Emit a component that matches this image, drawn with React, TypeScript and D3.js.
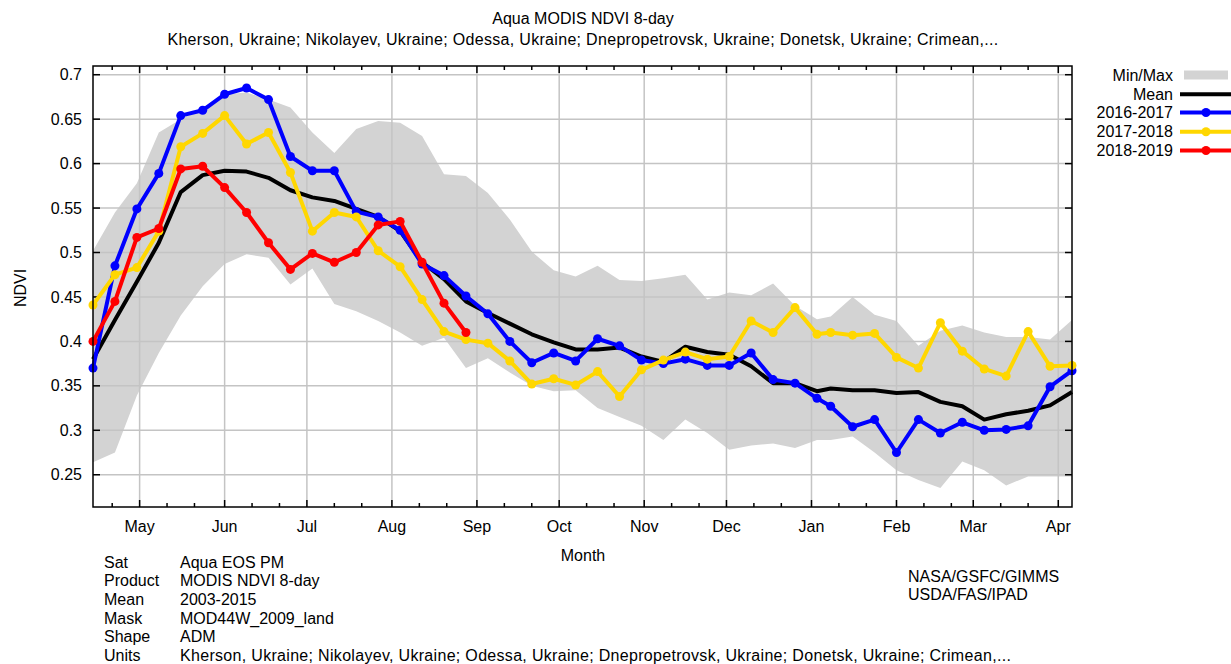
import React, { useEffect, useRef } from 'react';
import * as d3 from 'd3';

// 8-day composite positions on the season axis
const periodDates = [
  '2017-04-14', '2017-04-22', '2017-04-30', '2017-05-08', '2017-05-16', '2017-05-24',
  '2017-06-01', '2017-06-09', '2017-06-17', '2017-06-25', '2017-07-03', '2017-07-11',
  '2017-07-19', '2017-07-27', '2017-08-04', '2017-08-12', '2017-08-20', '2017-08-28',
  '2017-09-05', '2017-09-13', '2017-09-21', '2017-09-29', '2017-10-07', '2017-10-15',
  '2017-10-23', '2017-10-31', '2017-11-08', '2017-11-16', '2017-11-24', '2017-12-02',
  '2017-12-10', '2017-12-18', '2017-12-26', '2018-01-03', '2018-01-08', '2018-01-16',
  '2018-01-24', '2018-02-01', '2018-02-09', '2018-02-17', '2018-02-25', '2018-03-05',
  '2018-03-13', '2018-03-21', '2018-03-29', '2018-04-06',
];

const ndviMin = [
  0.264, 0.275, 0.339, 0.387, 0.429, 0.462, 0.487, 0.498, 0.494, 0.464, 0.482, 0.442,
  0.434, 0.423, 0.410, 0.395, 0.404, 0.370, 0.381, 0.365, 0.350, 0.344, 0.345, 0.325,
  0.315, 0.305, 0.289, 0.312, 0.297, 0.278, 0.283, 0.285, 0.280, 0.289, 0.289, 0.293,
  0.275, 0.255, 0.244, 0.235, 0.265, 0.255, 0.238, 0.248, 0.248, 0.248,
];

const ndviMax = [
  0.502, 0.545, 0.578, 0.635, 0.650, 0.663, 0.678, 0.680, 0.672, 0.663, 0.635, 0.612,
  0.639, 0.648, 0.646, 0.631, 0.588, 0.586, 0.567, 0.537, 0.501, 0.480, 0.473, 0.485,
  0.469, 0.468, 0.471, 0.475, 0.447, 0.455, 0.452, 0.465, 0.440, 0.425, 0.428, 0.450,
  0.430, 0.423, 0.395, 0.412, 0.418, 0.410, 0.405, 0.405, 0.402, 0.424,
];

const ndviMean = [
  0.380, 0.424, 0.467, 0.511, 0.568, 0.587, 0.592, 0.591, 0.584, 0.570, 0.562, 0.558,
  0.549, 0.540, 0.524, 0.489, 0.470, 0.445, 0.432, 0.420, 0.408, 0.399, 0.391, 0.391,
  0.393, 0.383, 0.377, 0.394, 0.388, 0.385, 0.372, 0.353, 0.353, 0.344, 0.347, 0.345,
  0.345, 0.342, 0.343, 0.332, 0.327, 0.312, 0.318, 0.322, 0.328, 0.343,
];

const ndvi2016 = [
  0.370, 0.485, 0.549, 0.589, 0.654, 0.660, 0.678, 0.685, 0.672, 0.608, 0.592, 0.592,
  0.546, 0.540, 0.525, 0.487, 0.474, 0.451, 0.431, 0.400, 0.376, 0.387, 0.378, 0.403,
  0.395, 0.379, 0.375, 0.380, 0.373, 0.373, 0.387, 0.357, 0.353, 0.336, 0.327, 0.304,
  0.312, 0.275, 0.312, 0.297, 0.309, 0.300, 0.301, 0.305, 0.349, 0.367,
];

const ndvi2017 = [
  0.441, 0.475, 0.483, 0.524, 0.619, 0.634, 0.654, 0.622, 0.635, 0.590, 0.524, 0.545,
  0.540, 0.502, 0.484, 0.447, 0.411, 0.402, 0.398, 0.378, 0.352, 0.358, 0.351, 0.366,
  0.338, 0.368, 0.379, 0.388, 0.380, 0.383, 0.423, 0.410, 0.438, 0.408, 0.410, 0.407,
  0.409, 0.382, 0.370, 0.421, 0.389, 0.369, 0.361, 0.411, 0.372, 0.373,
];

const ndvi2018 = [
  0.400, 0.445, 0.517, 0.527, 0.594, 0.597, 0.573, 0.545, 0.511, 0.481, 0.499, 0.489,
  0.500, 0.531, 0.535, 0.489, 0.443, 0.410,
];

const yTicks = [0.25, 0.3, 0.35, 0.4, 0.45, 0.5, 0.55, 0.6, 0.65, 0.7];
const monthLabels = ['May', 'Jun', 'Jul', 'Aug', 'Sep', 'Oct', 'Nov', 'Dec', 'Jan', 'Feb', 'Mar', 'Apr'];

const seriesNames = ['2016-2017', '2017-2018', '2018-2019'];
const seriesColors = ['#0000ff', '#ffd700', '#ff0000'];

const infoLabels = ['Sat', 'Product', 'Mean', 'Mask', 'Shape', 'Units'];
const infoValues = [
  'Aqua EOS PM',
  'MODIS NDVI 8-day',
  '2003-2015',
  'MOD44W_2009_land',
  'ADM',
  'Kherson, Ukraine; Nikolayev, Ukraine; Odessa, Ukraine; Dnepropetrovsk, Ukraine; Donetsk, Ukraine; Crimean,...',
];

const FONT = '"Liberation Sans", Arial, sans-serif';

const App = () => {
  const svgRef = useRef<SVGSVGElement>(null);

  useEffect(() => {
    const svg = d3.select(svgRef.current);
    svg.selectAll('*').remove();

    const left = 93, right = 1072, top = 66, bottom = 507;
    const dates = periodDates.map((d) => new Date(d + 'T00:00:00Z'));

    const x = d3.scaleUtc().domain([dates[0], dates[dates.length - 1]]).range([left, right]);
    const y = d3.scaleLinear().domain([0.2137, 0.7098]).range([bottom, top]);

    const months = d3.utcMonth.range(dates[0], dates[dates.length - 1]);
    const minorDays = d3.utcDay
      .range(dates[0], dates[dates.length - 1])
      .filter((d) => d.getUTCDate() === 11 || d.getUTCDate() === 21);

    const g = svg.append('g').attr('font-family', FONT).attr('font-size', 16).attr('fill', '#000');

    // titles
    g.append('text').attr('x', 583).attr('y', 24).attr('text-anchor', 'middle').text('Aqua MODIS NDVI 8-day');
    g.append('text')
      .attr('x', 583)
      .attr('y', 45)
      .attr('text-anchor', 'middle')
      .attr('letter-spacing', 0.31)
      .text(infoValues[5]);

    // min/max band
    const band = d3
      .area<number>()
      .x((d, i) => x(dates[i]))
      .y0((d) => y(d))
      .y1((d, i) => y(ndviMax[i]));
    g.append('path').datum(ndviMin).attr('d', band).attr('fill', '#d3d3d3');

    // grid
    g.append('g')
      .selectAll('line')
      .data(yTicks)
      .enter()
      .append('line')
      .attr('x1', left)
      .attr('x2', right)
      .attr('y1', (d) => y(d))
      .attr('y2', (d) => y(d))
      .attr('stroke', '#c4c4c4')
      .attr('stroke-width', 1.5);
    g.append('g')
      .selectAll('line')
      .data(months)
      .enter()
      .append('line')
      .attr('x1', (d) => x(d))
      .attr('x2', (d) => x(d))
      .attr('y1', top)
      .attr('y2', bottom)
      .attr('stroke', '#c4c4c4')
      .attr('stroke-width', 1.5);

    // frame ticks
    const ticks = g.append('g').attr('stroke', '#000').attr('stroke-width', 1.5);
    yTicks.forEach((v) => {
      ticks.append('line').attr('x1', left).attr('x2', left + 7).attr('y1', y(v)).attr('y2', y(v));
      ticks.append('line').attr('x1', right - 7).attr('x2', right).attr('y1', y(v)).attr('y2', y(v));
    });
    months.forEach((m) => {
      ticks.append('line').attr('x1', x(m)).attr('x2', x(m)).attr('y1', top).attr('y2', top + 7);
      ticks.append('line').attr('x1', x(m)).attr('x2', x(m)).attr('y1', bottom - 7).attr('y2', bottom);
    });
    minorDays.forEach((m) => {
      ticks.append('line').attr('x1', x(m)).attr('x2', x(m)).attr('y1', top).attr('y2', top + 4);
      ticks.append('line').attr('x1', x(m)).attr('x2', x(m)).attr('y1', bottom - 4).attr('y2', bottom);
    });

    // axis labels
    g.append('g')
      .selectAll('text')
      .data(yTicks)
      .enter()
      .append('text')
      .attr('x', 82)
      .attr('y', (d) => y(d))
      .attr('dy', '0.35em')
      .attr('text-anchor', 'end')
      .text((d) => String(d));
    g.append('g')
      .selectAll('text')
      .data(months)
      .enter()
      .append('text')
      .attr('x', (d) => x(d))
      .attr('y', 532)
      .attr('text-anchor', 'middle')
      .text((d, i) => monthLabels[i]);
    g.append('text').attr('x', 583).attr('y', 561).attr('text-anchor', 'middle').text('Month');
    g.append('text')
      .attr('transform', 'translate(26,288) rotate(-90)')
      .attr('text-anchor', 'middle')
      .text('NDVI');

    // mean line
    const line = d3
      .line<number>()
      .x((d, i) => x(dates[i]))
      .y((d) => y(d));
    g.append('path')
      .datum(ndviMean)
      .attr('d', line)
      .attr('fill', 'none')
      .attr('stroke', '#000')
      .attr('stroke-width', 4)
      .attr('stroke-linejoin', 'round');

    // season lines
    [ndvi2016, ndvi2017, ndvi2018].forEach((vals, k) => {
      g.append('path')
        .datum(vals)
        .attr('d', line)
        .attr('fill', 'none')
        .attr('stroke', seriesColors[k])
        .attr('stroke-width', 4)
        .attr('stroke-linejoin', 'round');
      g.append('g')
        .selectAll('circle')
        .data(vals)
        .enter()
        .append('circle')
        .attr('cx', (d, i) => x(dates[i]))
        .attr('cy', (d) => y(d))
        .attr('r', 4.5)
        .attr('fill', seriesColors[k]);
    });

    // frame
    g.append('rect')
      .attr('x', left)
      .attr('y', top)
      .attr('width', right - left)
      .attr('height', bottom - top)
      .attr('fill', 'none')
      .attr('stroke', '#000')
      .attr('stroke-width', 1.5);

    // legend
    const lg = g.append('g');
    const legendY = [75, 94.3, 112.5, 131.7, 150.5];
    const legendNames = ['Min/Max', 'Mean', ...seriesNames];
    legendNames.forEach((name, i) => {
      lg.append('text')
        .attr('x', 1173)
        .attr('y', legendY[i])
        .attr('dy', '0.35em')
        .attr('text-anchor', 'end')
        .text(name);
    });
    lg.append('rect').attr('x', 1184).attr('y', 70.5).attr('width', 44).attr('height', 9).attr('fill', '#d3d3d3');
    lg.append('line')
      .attr('x1', 1180)
      .attr('x2', 1231)
      .attr('y1', legendY[1])
      .attr('y2', legendY[1])
      .attr('stroke', '#000')
      .attr('stroke-width', 4);
    seriesColors.forEach((c, k) => {
      const ly = legendY[k + 2];
      lg.append('line').attr('x1', 1180).attr('x2', 1231).attr('y1', ly).attr('y2', ly).attr('stroke', c).attr('stroke-width', 4);
      lg.append('circle').attr('cx', 1206).attr('cy', ly).attr('r', 4.5).attr('fill', c);
    });

    // footer info
    const info = g.append('g');
    infoLabels.forEach((lab, i) => {
      const ty = 567.5 + i * 18.7;
      info.append('text').attr('x', 104).attr('y', ty).text(lab);
      info
        .append('text')
        .attr('x', 180)
        .attr('y', ty)
        .attr('letter-spacing', i === 5 ? 0.31 : 0)
        .text(infoValues[i]);
    });
    info.append('text').attr('x', 908).attr('y', 581.5).text('NASA/GSFC/GIMMS');
    info.append('text').attr('x', 908).attr('y', 600).text('USDA/FAS/IPAD');
  }, []);

  return (
    <svg
      ref={svgRef}
      width={1231}
      height={664}
      style={{ position: 'absolute', left: 0, top: 0, background: '#fff' }}
    />
  );
};

export default App;
